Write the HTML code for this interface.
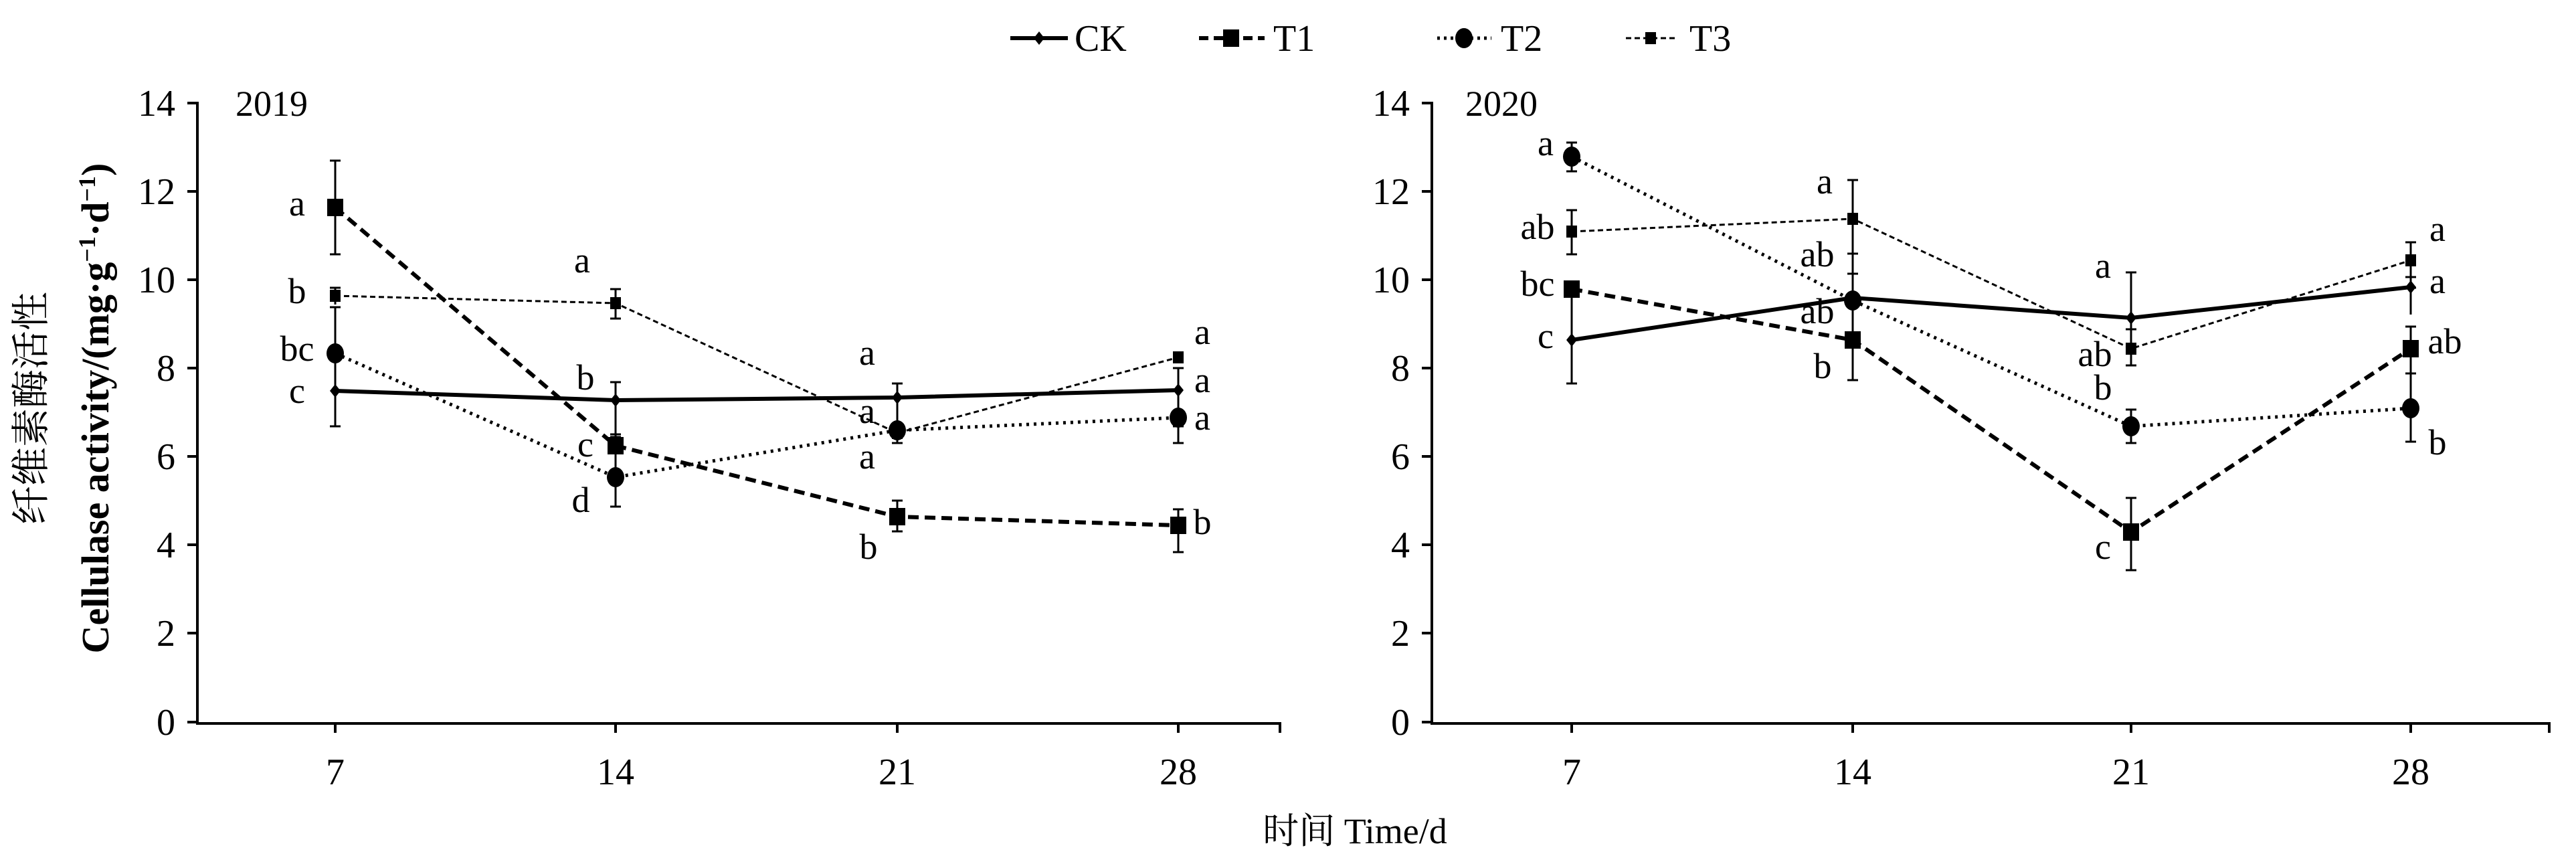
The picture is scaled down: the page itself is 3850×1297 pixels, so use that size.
<!DOCTYPE html>
<html><head><meta charset="utf-8"><style>body{margin:0;background:#fff}svg{display:block}text{font-family:"Liberation Serif","Noto Serif CJK SC",serif;fill:#000}</style></head><body>
<svg width="3850" height="1297" viewBox="0 0 3850 1297" xmlns="http://www.w3.org/2000/svg">
<defs>
<g id="dia"><path d="M0,-10 L8,0 L0,10 L-8,0Z" fill="#000"/></g>
<g id="sqB"><rect x="-12" y="-13" width="24" height="26" fill="#000"/></g>
<g id="cir"><ellipse rx="13" ry="15" fill="#000"/></g>
<g id="sqS"><rect x="-8" y="-9" width="16" height="18" fill="#000"/></g>
</defs>
<g stroke="#000" stroke-width="4" fill="none">
<path d="M295,152 V1081 H1913"/>
<path d="M280,154H295M280,286H295M280,418H295M280,550H295M280,682H295M280,814H295M280,946H295M280,1079H295"/>
<path d="M501,1079V1095M920,1079V1095M1341,1079V1095M1761,1079V1095"/>
<path d="M2140,152 V1081 H3810"/>
<path d="M2125,154H2140M2125,286H2140M2125,418H2140M2125,550H2140M2125,682H2140M2125,814H2140M2125,946H2140M2125,1079H2140"/>
<path d="M2349,1079V1095M2769,1079V1095M3185,1079V1095M3603,1079V1095M3810,1079V1095M1913,1079V1095"/>
</g>
<g font-size="56" text-anchor="end">
<text x="262" y="173">14</text><text x="262" y="305">12</text><text x="262" y="437">10</text><text x="262" y="569">8</text><text x="262" y="701">6</text><text x="262" y="833">4</text><text x="262" y="965">2</text><text x="262" y="1098">0</text>
<text x="2107" y="173">14</text><text x="2107" y="305">12</text><text x="2107" y="437">10</text><text x="2107" y="569">8</text><text x="2107" y="701">6</text><text x="2107" y="833">4</text><text x="2107" y="965">2</text><text x="2107" y="1098">0</text>
</g>
<g font-size="56" text-anchor="middle">
<text x="501" y="1172">7</text><text x="920" y="1172">14</text><text x="1341" y="1172">21</text><text x="1761" y="1172">28</text>
<text x="2349" y="1172">7</text><text x="2769" y="1172">14</text><text x="3185" y="1172">21</text><text x="3603" y="1172">28</text>
</g>
<text x="352" y="173" font-size="54">2019</text>
<text x="2190" y="173" font-size="54">2020</text>
<text x="2025" y="1260" font-size="54" text-anchor="middle">时间 Time/d</text>
<text transform="translate(66,610) rotate(-90)" font-size="58" text-anchor="middle">纤维素酶活性</text>
<text transform="translate(162,610) rotate(-90)" font-size="58" font-weight="bold" text-anchor="middle">Cellulase activity/(mg·g<tspan dy="-20" font-size="36">−1</tspan><tspan dy="20">·d</tspan><tspan dy="-20" font-size="36">−1</tspan><tspan dy="20">)</tspan></text>

<g stroke="#000" fill="none">
<path d="M1510,57H1596" stroke-width="6"/>
<path d="M1792,57H1890" stroke-width="6" stroke-dasharray="14,8"/>
<path d="M2148,57H2229" stroke-width="5" stroke-dasharray="4,6"/>
<path d="M2430,57H2504" stroke-width="3" stroke-dasharray="8,5"/>
</g>
<use href="#dia" x="1553" y="57"/><use href="#sqB" x="1840" y="57"/><use href="#cir" x="2188" y="57"/><use href="#sqS" x="2467" y="57"/>
<g font-size="56"><text x="1606" y="76">CK</text><text x="1903" y="76">T1</text><text x="2243" y="76">T2</text><text x="2525" y="76">T3</text></g>

<g stroke="#000" stroke-width="3">
<path d="M501,530V637M920,571V653M1341,573V641M1761,550V637"/>
<path d="M501,240V380M920,649V695M1341,748V794M1761,761V825"/>
<path d="M501,459V579M920,662V757M1341,628V662M1761,591V662"/>
<path d="M501,430V455M920,432V476M1761,528V540"/>
<path d="M2349,430V573M2769,409V484M3185,407V538M3603,414V470"/>
<path d="M2769,488V568M3185,744V852M3603,488V562"/>
<path d="M2349,213V256M2769,379V500M3185,612V662M3603,558V660"/>
<path d="M2349,314V380M2769,269V380M3185,492V546M3603,362V430"/>
</g>
<g stroke="#000" stroke-width="3">
<path d="M493,637H509M912,571H928M912,653H928M1333,573H1349M1333,641H1349M1753,550H1769M1753,637H1769"/>
<path d="M493,240H509M493,380H509M912,649H928M1333,748H1349M1333,794H1349M1753,761H1769M1753,825H1769"/>
<path d="M493,459H509M912,757H928M1333,662H1349M1753,662H1769"/>
<path d="M493,430H509M912,432H928M912,476H928"/>
<path d="M2341,573H2357M2761,409H2777M3177,407H3193M3595,414H3611M2761,568H2777M3177,744H3193M3177,852H3193M3595,488H3611"/>
<path d="M2341,213H2357M2341,256H2357M2761,379H2777M3177,612H3193M3177,662H3193M3595,558H3611M3595,660H3611"/>
<path d="M2341,314H2357M2341,380H2357M2761,269H2777M3177,492H3193M3177,546H3193M3595,362H3611M3595,430H3611"/>
</g>

<g fill="none" stroke="#000">
<polyline points="501,584 920,598 1341,594 1761,583" stroke-width="6"/>
<polyline points="501,310 920,666 1341,772 1761,785" stroke-width="6" stroke-dasharray="16,9"/>
<polyline points="501,528 920,713 1341,643 1761,624" stroke-width="5" stroke-dasharray="4,7"/>
<polyline points="501,442 920,453 1341,647 1761,534" stroke-width="3" stroke-dasharray="8,5"/>
<polyline points="2349,508 2769,445 3185,475 3603,429" stroke-width="6"/>
<polyline points="2349,432 2769,508 3185,795 3603,521" stroke-width="6" stroke-dasharray="16,9"/>
<polyline points="2349,234 2769,449 3185,637 3603,610" stroke-width="5" stroke-dasharray="4,7"/>
<polyline points="2349,346 2769,327 3185,521 3603,389" stroke-width="3" stroke-dasharray="8,5"/>
</g>
<use href="#dia" x="501" y="584"/><use href="#dia" x="920" y="598"/><use href="#dia" x="1341" y="594"/><use href="#dia" x="1761" y="583"/>
<use href="#sqB" x="501" y="310"/><use href="#sqB" x="920" y="666"/><use href="#sqB" x="1341" y="772"/><use href="#sqB" x="1761" y="785"/>
<use href="#cir" x="501" y="528"/><use href="#cir" x="920" y="713"/><use href="#cir" x="1341" y="643"/><use href="#cir" x="1761" y="624"/>
<use href="#sqS" x="501" y="442"/><use href="#sqS" x="920" y="453"/><use href="#sqS" x="1341" y="647"/><use href="#sqS" x="1761" y="534"/>
<use href="#dia" x="2349" y="508"/><use href="#dia" x="2769" y="445"/><use href="#dia" x="3185" y="475"/><use href="#dia" x="3603" y="429"/>
<use href="#sqB" x="2349" y="432"/><use href="#sqB" x="2769" y="508"/><use href="#sqB" x="3185" y="795"/><use href="#sqB" x="3603" y="521"/>
<use href="#cir" x="2349" y="234"/><use href="#cir" x="2769" y="449"/><use href="#cir" x="3185" y="637"/><use href="#cir" x="3603" y="610"/>
<use href="#sqS" x="2349" y="346"/><use href="#sqS" x="2769" y="327"/><use href="#sqS" x="3185" y="521"/><use href="#sqS" x="3603" y="389"/>

<g font-size="54" text-anchor="middle">
<text x="444" y="322">a</text><text x="444" y="453">b</text><text x="444" y="539">bc</text><text x="444" y="602">c</text>
<text x="870" y="407">a</text><text x="875" y="582">b</text><text x="875" y="682">c</text><text x="868" y="765">d</text>
<text x="1296" y="545">a</text><text x="1296" y="632">a</text><text x="1296" y="700">a</text><text x="1298" y="835">b</text>
<text x="1797" y="514">a</text><text x="1797" y="586">a</text><text x="1797" y="642">a</text><text x="1797" y="798">b</text>
<text x="2310" y="232">a</text><text x="2298" y="357">ab</text><text x="2298" y="442">bc</text><text x="2310" y="520">c</text>
<text x="2727" y="289">a</text><text x="2716" y="398">ab</text><text x="2716" y="483">ab</text><text x="2724" y="565">b</text>
<text x="3143" y="415">a</text><text x="3131" y="547">ab</text><text x="3143" y="597">b</text><text x="3143" y="835">c</text>
<text x="3643" y="360">a</text><text x="3643" y="438">a</text><text x="3654" y="528">ab</text><text x="3643" y="679">b</text>
</g>
</svg>
</body></html>
